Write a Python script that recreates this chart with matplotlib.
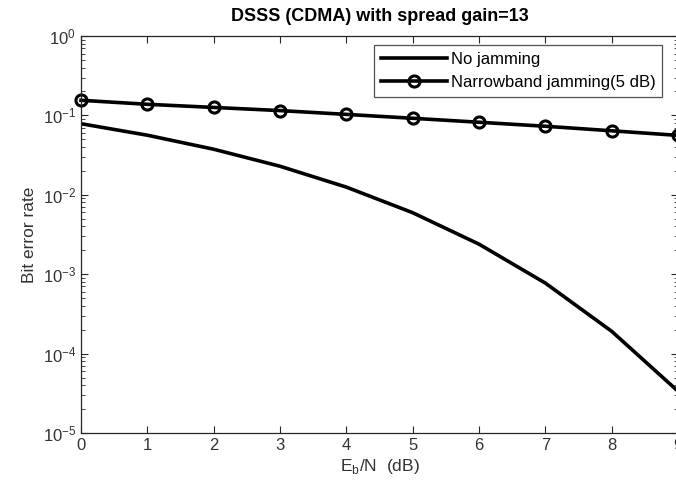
import matplotlib
matplotlib.use("Agg")
import matplotlib.pyplot as plt
from matplotlib.ticker import LogLocator, NullFormatter, FixedLocator

ebn0_db = [0, 1, 2, 3, 4, 5, 6, 7, 8, 9]
ber_no_jam = [0.0786, 0.0563, 0.0375, 0.0229, 0.0125, 0.00595, 0.00239, 0.000773, 0.000191, 0.0000336]
ber_nb_jam = [0.155, 0.138, 0.126, 0.115, 0.103, 0.092, 0.082, 0.073, 0.064, 0.056]
label_no = "No jamming"
label_nb = "Narrowband jamming(5 dB)"
title = "DSSS (CDMA) with spread gain=13"

plt.rcParams['font.family'] = ['Liberation Sans', 'DejaVu Sans']

fig = plt.figure(figsize=(6.76, 4.88), dpi=100)
ax = fig.add_axes([81/676, 1-433/488, (678-81)/676, (433-36)/488])

ax.semilogy(ebn0_db, ber_no_jam, color='black', lw=2.6, label=label_no)
ax.semilogy(ebn0_db, ber_nb_jam, color='black', lw=2.6, marker='o', ms=8,
            mfc='none', mec='black', mew=2.2, label=label_nb, clip_on=False)

ax.set_xlim(0, 9)
ax.set_ylim(1e-5, 1)
ax.set_xticks(ebn0_db)
ax.yaxis.set_major_locator(FixedLocator([1e-5, 1e-4, 1e-3, 1e-2, 1e-1, 1]))
ax.yaxis.set_minor_locator(LogLocator(base=10, subs=range(2, 10), numticks=20))
ax.yaxis.set_minor_formatter(NullFormatter())

gray = '#262626'
ax.tick_params(which='both', direction='in', top=True, right=True, colors=gray,
               labelcolor='#333333', labelsize=12)
ax.tick_params(which='major', length=5, width=0.8)
ax.tick_params(which='minor', length=3, width=0.6)
for s in ax.spines.values():
    s.set_color(gray)
    s.set_linewidth(0.9)

ax.set_title(title, fontsize=13, fontweight='bold', pad=11)
ax.set_xlabel(r"E$_\mathregular{b}$/N  (dB)", fontsize=12.5, color='#333333', labelpad=3)
ax.set_ylabel("Bit error rate", fontsize=12.5, color='#333333', labelpad=4)

leg = ax.legend(loc='upper right', fontsize=12, frameon=True, fancybox=False,
                edgecolor=gray, handlelength=4.0, borderpad=0.4, labelspacing=0.5,
                handletextpad=0.2, borderaxespad=0)
leg.get_frame().set_linewidth(0.9)
leg.set_bbox_to_anchor(((662-81)/(678-81), 1 - (45-36)/397), transform=ax.transAxes)

fig.savefig("out.png", dpi=100)
